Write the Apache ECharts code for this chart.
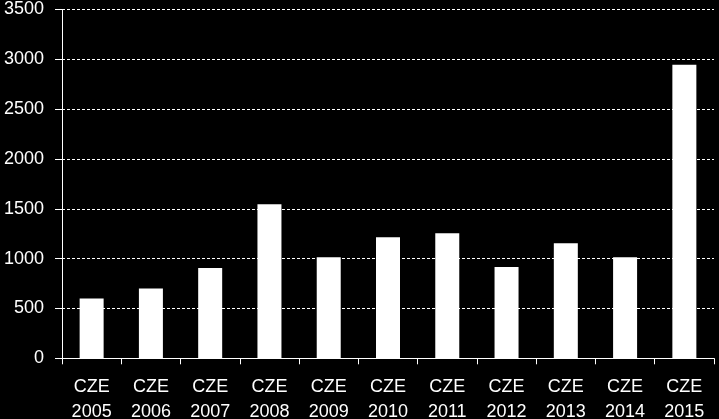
<!DOCTYPE html>
<html><head><meta charset="utf-8">
<script src="https://cdn.jsdelivr.net/npm/echarts@6/dist/echarts.min.js"></script>
<style>html,body{margin:0;padding:0;background:#000;}#c{width:719px;height:419px;}</style>
</head><body><div id="c"></div>
<script>
const categories = ['CZE\n2005','CZE\n2006','CZE\n2007','CZE\n2008','CZE\n2009','CZE\n2010','CZE\n2011','CZE\n2012','CZE\n2013','CZE\n2014','CZE\n2015'];
const values = [600, 700, 905, 1545, 1015, 1215, 1255, 915, 1155, 1015, 2945];
const yTicks = {min: 0, max: 3500, interval: 500};

const chart = echarts.init(document.getElementById('c'), null, {renderer: 'canvas'});
chart.setOption({
  backgroundColor: '#000',
  animation: false,
  grid: {left: 62, right: 5, top: 9.5, bottom: 60.7, containLabel: false, outerBoundsMode: 'none'},
  xAxis: {
    type: 'category',
    data: categories,
    axisLine: {lineStyle: {color: '#fff', width: 1}},
    axisTick: {show: true, length: 6, lineStyle: {color: '#fff'}},
    axisLabel: {color: '#fff', fontFamily: 'Liberation Sans', fontSize: 18, lineHeight: 25, margin: 16}
  },
  yAxis: {
    type: 'value',
    min: yTicks.min, max: yTicks.max, interval: yTicks.interval,
    axisLine: {show: true, lineStyle: {color: '#fff', width: 1}},
    axisTick: {show: true, length: 7, lineStyle: {color: '#fff'}},
    axisLabel: {color: '#fff', fontFamily: 'Liberation Sans', fontSize: 18, margin: 18, formatter: v => String(v)},
    splitLine: {show: true, lineStyle: {color: '#fff', width: 1, type: [3, 2]}}
  },
  series: [{
    type: 'bar',
    data: values,
    barWidth: 24,
    itemStyle: {color: '#fff'}
  }]
});
</script></body></html>
